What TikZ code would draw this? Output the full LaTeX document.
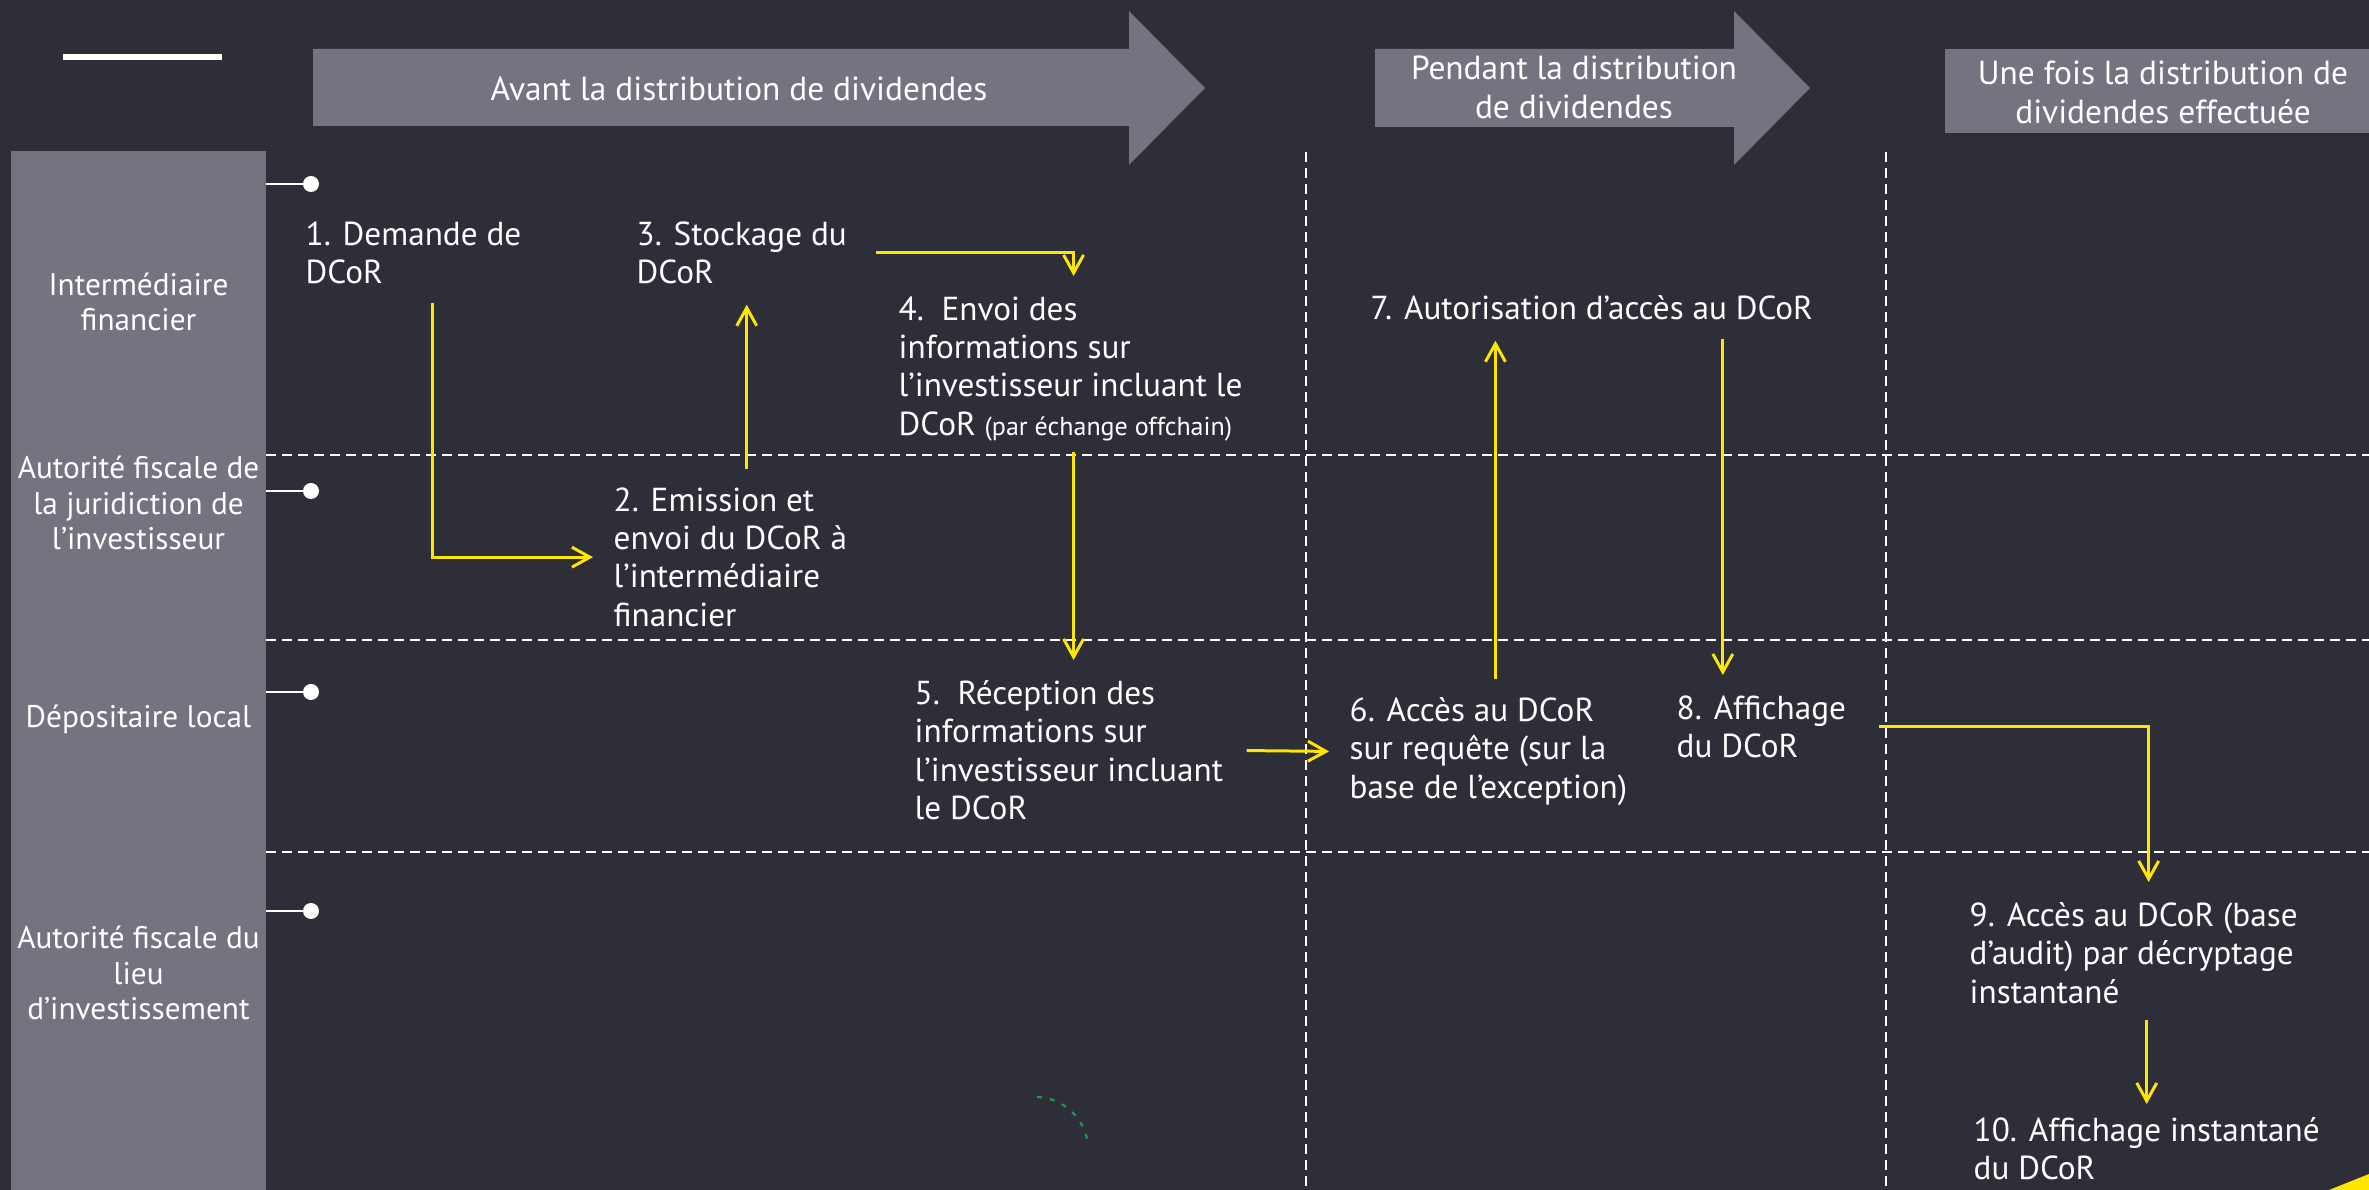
\documentclass[tikz,border=0pt]{standalone}
\usepackage{fontspec}
\setmainfont{PT Sans}
\usetikzlibrary{arrows.meta}
\definecolor{night}{HTML}{2E2E38}
\definecolor{slate}{HTML}{747480}
\definecolor{signal}{HTML}{FFE600}
\definecolor{meadow}{HTML}{17A04E}

\begin{document}
\begin{tikzpicture} [actor/.style= {align=center,text=white,inner sep=0,font=\fontsize{8.9}{10}\selectfont},
  phase/.style= {align=center,text=white,inner sep=0,font=\fontsize{9.5}{11}\selectfont},
  stage/.style= {align=left,text=white,inner sep=0,anchor=north west,font=\fontsize{9.45}{10.9}\selectfont},
  lane/.style= {white,line width=0.6pt,dash pattern=on 0.1cm off 0.06cm},
  stub/.style= {white,line width=0.6pt},
  flow/.style= {signal,line width=0.85pt,-{Straight Barb[length=0.18cm,width=0.2cm]},shorten >=0.2cm,shorten <=0.18cm}]
  \fill[night] (0,0) rectangle (23.69,-11.90);
  \useasboundingbox (0,0) rectangle (23.69,-11.90);
  % Header
  \draw[white,line width=0.06cm] (0.63,-0.57) -- (2.22,-0.57);
  \fill[slate] (3.13,-0.49) -- (11.29,-0.49) -- (11.29,-0.11) -- (12.05,-0.88) -- (11.29,-1.65) -- (11.29,-1.26) -- (3.13,-1.26) -- cycle;
  \fill[slate] (13.75,-0.49) -- (17.34,-0.49) -- (17.34,-0.11) -- (18.10,-0.88) -- (17.34,-1.65) -- (17.34,-1.27) -- (13.75,-1.27) -- cycle;
  \fill[slate] (19.45,-0.49) rectangle (23.69,-1.33);
  {\node[phase] (avant)   at (7.39,-0.89)   {Avant la distribution de dividendes};}
  {\node[phase] (pendant) at (15.74,-0.875) {Pendant la distribution\\de dividendes};}
  {\node[phase] (apres)   at (21.63,-0.925) {Une fois la distribution de\\dividendes effectuée};}
  % Lanes
  \fill[slate] (0.11,-1.51) rectangle (2.66,-11.90);
  \draw[lane] (2.66,-4.55) -- (23.69,-4.55);
  \draw[lane] (2.66,-6.40) -- (23.69,-6.40);
  \draw[lane] (2.66,-8.52) -- (23.69,-8.52);
  \draw[lane] (13.06,-1.52) -- (13.06,-11.90);
  \draw[lane] (18.86,-1.52) -- (18.86,-11.90);
  {\node[actor] (fin)  at (1.385,-3.02) {Intermédiaire\\financier};}
  {\node[actor] (jur)  at (1.385,-5.03) {Autorité fiscale de\\la juridiction de\\l’investisseur};}
  {\node[actor] (dep)  at (1.385,-7.19) {Dépositaire local};}
  {\node[actor] (lieu) at (1.385,-9.73) {Autorité fiscale du\\lieu\\d’investissement};}
  \draw[stub] (2.66,-1.84) -- (3.11,-1.84); \fill[white] (3.11,-1.84) circle (0.08);
  \draw[stub] (2.66,-4.91) -- (3.11,-4.91); \fill[white] (3.11,-4.91) circle (0.08);
  \draw[stub] (2.66,-6.92) -- (3.11,-6.92); \fill[white] (3.11,-6.92) circle (0.08);
  \draw[stub] (2.66,-9.11) -- (3.11,-9.11); \fill[white] (3.11,-9.11) circle (0.08);
  % Steps
  {\node[stage] (s1)  at (3.05,-2.21)  {1. Demande de\\DCoR};}
  {\node[stage] (s3)  at (6.36,-2.21)  {3. Stockage du\\DCoR};}
  {\node[stage] (s4)  at (8.98,-2.96)  {4.\ \ Envoi des\\informations sur\\l’investisseur incluant le\\DCoR {\fontsize{7.4}{10.9}\selectfont(par échange offchain)}};}
  {\node[stage] (s7)  at (13.70,-2.95) {7. Autorisation d’accès au DCoR};}
  {\node[stage] (s2)  at (6.13,-4.87)  {2. Emission et\\envoi du DCoR à\\l’intermédiaire\\financier};}
  {\node[stage] (s5)  at (9.14,-6.80)  {5.\ \ Réception des\\informations sur\\l’investisseur incluant\\le DCoR};}
  {\node[stage] (s6)  at (13.49,-6.97) {6. Accès au DCoR\\sur requête (sur la\\base de l’exception)};}
  {\node[stage] (s8)  at (16.76,-6.95) {8. Affichage\\du DCoR};}
  {\node[stage] (s9)  at (19.69,-9.02) {9. Accès au DCoR (base\\d’audit) par décryptage\\instantané};}
  {\node[stage] (s10) at (19.73,-11.17) {10. Affichage instantané\\du DCoR};}
  % Flows
  \draw[flow] ([xshift=0.19cm]s1.south) |- (s2.west);
  \draw[flow] ([xshift=0.05cm]s3.south |- s2.north) -- ([xshift=0.05cm]s3.south);
  \draw[flow,shorten <=0.29cm] (s3.east) -| ([xshift=0.03cm]s4.north);
  \draw[flow,shorten <=0.1cm] ([xshift=0.03cm]s4.south) -- ([xshift=0.03cm]s4.south |- s5.north);
  \draw[flow,shorten <=0.23cm] (s5.east) -- (s6.west);
  \draw[flow] ([xshift=0.07cm]s6.north) -- ([xshift=0.07cm]s6.north |- s7.south);
  \draw[flow] ([xshift=1.31cm]s7.south) -- ([xshift=1.31cm]s7.south |- s8.north);
  \draw[flow,shorten <=0.32cm] (s8.east) -| ([xshift=0.15cm]s9.north);
  \draw[flow,shorten <=0.16cm,shorten >=0.13cm] (s10.north |- s9.south) -- (s10.north);
  % Marks
  \draw[meadow,line width=0.6pt,dash pattern=on 0.05cm off 0.08cm] (10.37,-10.97) arc[start angle=88,end angle=6,radius=0.53];
  \fill[signal] (23.29,-11.90) -- (23.69,-11.74) -- (23.69,-11.90) -- cycle;
\end{tikzpicture}
\end{document}
